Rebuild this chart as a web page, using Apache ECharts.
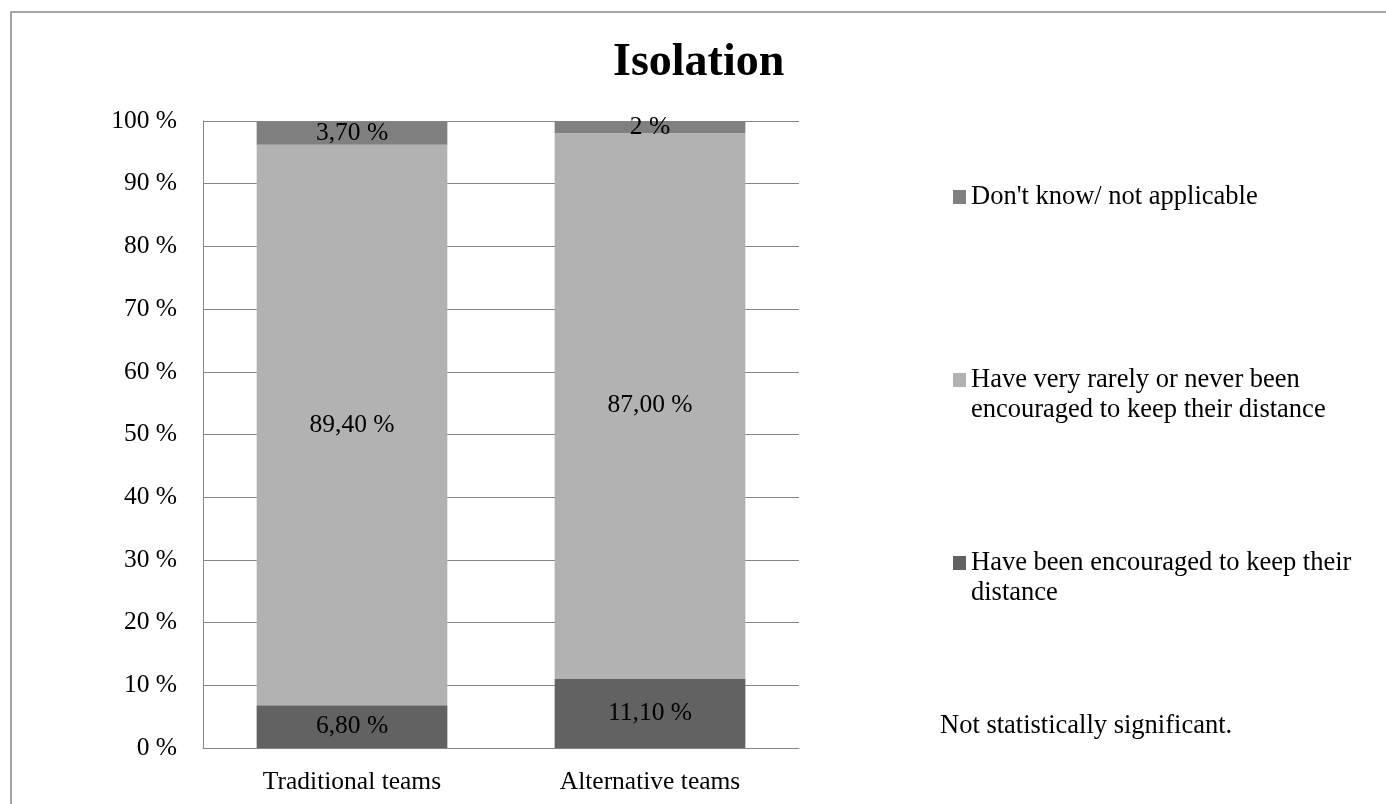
<!DOCTYPE html>
<html>
<head>
<meta charset="utf-8">
<title>Isolation</title>
<script src="https://cdn.jsdelivr.net/npm/echarts@6/dist/echarts.min.js"></script>
<style>
  html, body { margin: 0; padding: 0; background: #ffffff; }
  #chart { width: 1386px; height: 804px; }
</style>
</head>
<body>
<div id="chart"></div>
<script>
// Team types on the x axis
const categories = ['Traditional teams', 'Alternative teams'];

// Share of respondents (%) per answer, one value per team type
const encouraged = [6.8, 11.1];
const rarelyOrNever = [89.4, 87.0];
const dontKnow = [3.7, 2];

// Decimals shown in each value label
const encouragedDecimals = [2, 2];
const rarelyDecimals = [2, 2];
const dontKnowDecimals = [2, 0];

// Y axis ticks
const yMin = 0;
const yMax = 100;
const yStep = 10;

const seriesNames = [
  'Have been encouraged to keep their distance',
  'Have very rarely or never been encouraged to keep their distance',
  "Don't know/ not applicable"
];
const legendText = {
  'Have been encouraged to keep their distance': 'Have been encouraged to keep their\ndistance',
  'Have very rarely or never been encouraged to keep their distance': 'Have very rarely or never been\nencouraged to keep their distance',
  "Don't know/ not applicable": "Don't know/ not applicable"
};
const note = 'Not statistically significant.';

const FONT = '"Liberation Serif", "Times New Roman", serif';
const TEXT_SIZE = 25.5;
const LEGEND_SIZE = 26.5;
const LEGEND_LINE = 30;

// Square swatch; for wrapped entries the path carries an empty point
// further down so the square sits beside the first text line.
const SQUARE_ICON = 'path://M0,0L13,0L13,14L0,14Z';
const TOP_SQUARE_ICON = 'path://M0,0L13,0L13,14L0,14ZM0,44L0,44';

function fmt(decimals) {
  return function (p) {
    return p.value.toFixed(decimals[p.dataIndex]).replace('.', ',') + ' %';
  };
}

function barSeries(name, data, color, decimals) {
  return {
    name: name,
    type: 'bar',
    stack: 'total',
    barWidth: '64%',
    data: data,
    itemStyle: { color: color },
    emphasis: { disabled: true },
    label: {
      show: true,
      position: 'inside',
      formatter: fmt(decimals),
      color: '#000000',
      fontFamily: FONT,
      fontSize: TEXT_SIZE
    }
  };
}

function legendItem(name, top, twoLines) {
  return {
    data: [name],
    left: 953,
    top: top,
    orient: 'vertical',
    icon: twoLines ? TOP_SQUARE_ICON : SQUARE_ICON,
    itemWidth: 13,
    itemHeight: twoLines ? 44 : 14,
    itemGap: 0,
    padding: 0,
    selectedMode: false,
    formatter: function (n) { return legendText[n]; },
    textStyle: {
      color: '#000000',
      fontFamily: FONT,
      fontSize: LEGEND_SIZE,
      lineHeight: LEGEND_LINE
    }
  };
}

const chart = echarts.init(document.getElementById('chart'), null, { renderer: 'canvas' });

chart.setOption({
  backgroundColor: '#ffffff',
  animation: false,
  title: {
    text: 'Isolation',
    left: 613,
    top: 40,
    padding: 0,
    textStyle: {
      fontFamily: FONT,
      fontWeight: 'bold',
      fontSize: 46,
      color: '#000000'
    }
  },
  grid: {
    left: 203,
    right: 587,
    top: 121,
    bottom: 56,
    containLabel: false
  },
  legend: [
    legendItem(seriesNames[2], 182, false),
    legendItem(seriesNames[1], 365, true),
    legendItem(seriesNames[0], 548, true)
  ],
  graphic: [
    {
      type: 'rect',
      shape: { x: 11, y: 12, width: 1400, height: 820 },
      style: { fill: 'none', stroke: '#888888', lineWidth: 1.5 },
      silent: true,
      z: -1
    },
    {
      type: 'text',
      left: 940,
      top: 713,
      style: {
        text: note,
        fill: '#000000',
        font: LEGEND_SIZE + 'px ' + FONT
      }
    }
  ],
  xAxis: {
    type: 'category',
    data: categories,
    axisTick: { show: false },
    axisLine: { lineStyle: { color: '#868686', width: 1 } },
    axisLabel: {
      color: '#000000',
      fontFamily: FONT,
      fontSize: TEXT_SIZE,
      lineHeight: 26,
      margin: 21
    }
  },
  yAxis: {
    type: 'value',
    min: yMin,
    max: yMax,
    interval: yStep,
    axisLine: { show: true, lineStyle: { color: '#868686', width: 1 } },
    axisTick: { show: false },
    splitLine: { lineStyle: { color: '#868686', width: 1 } },
    axisLabel: {
      formatter: '{value} %',
      color: '#000000',
      fontFamily: FONT,
      fontSize: TEXT_SIZE,
      margin: 26
    }
  },
  series: [
    barSeries(seriesNames[0], encouraged, '#626262', encouragedDecimals),
    barSeries(seriesNames[1], rarelyOrNever, '#b2b2b2', rarelyDecimals),
    barSeries(seriesNames[2], dontKnow, '#808080', dontKnowDecimals)
  ]
});
</script>
</body>
</html>
